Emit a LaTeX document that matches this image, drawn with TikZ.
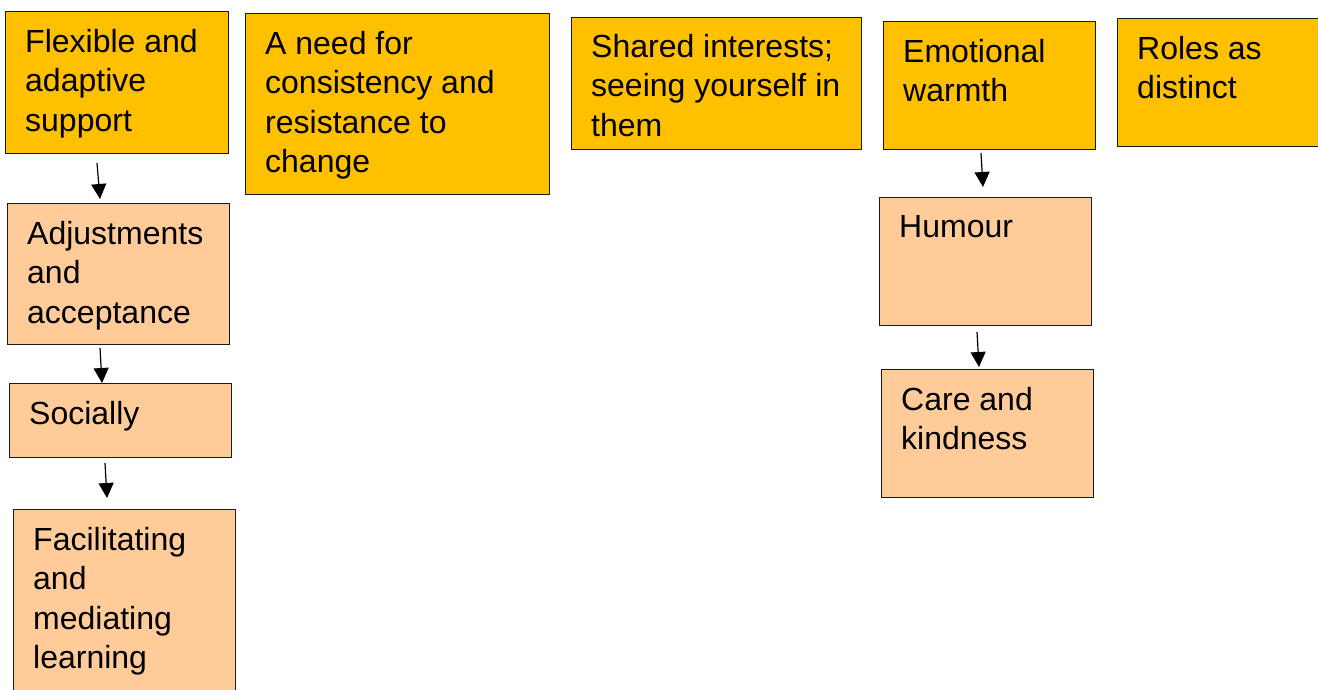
\documentclass[tikz,border=0pt]{standalone}
\usepackage{fontspec}
\setmainfont{Liberation Sans}
\usetikzlibrary{arrows.meta}
\definecolor{gold}{HTML}{FFC000}
\definecolor{peach}{HTML}{FFCC99}
\definecolor{edge}{HTML}{1A1A1A}
% fixed first-line height, so a label's top sits 24pt above its first baseline
\newcommand{\firstline}{\rule{0pt}{24pt}}
\tikzset{
  card/.style={draw=edge, line width=1pt, inner sep=0pt, anchor=north west},
  theme/.style={card, fill=gold},
  subtheme/.style={card, fill=peach},
  lbl/.style={anchor=north west, align=left, inner sep=0pt,
    font=\fontsize{32pt}{39.5pt}\selectfont},
  link/.style={line width=1.2pt, -{Triangle[length=15pt,width=15pt]}}
}
\begin{document}
\begin{tikzpicture}[x=1pt,y=-1pt]
\useasboundingbox (0,0) rectangle (1318,689);
\clip (0,0) rectangle (1318,689);

% top-level themes (label positions given as first baseline minus 24)
\node[theme, minimum width=223pt, minimum height=142pt] (flex) at (5,11) {};
\node[lbl] (flex-t) at (25,28) {\firstline Flexible and\\adaptive\\support};

\node[theme, minimum width=304pt, minimum height=181pt] (need) at (245,13) {};
\node[lbl] (need-t) at (265,30) {\firstline A need for\\consistency and\\resistance to\\change};

\node[theme, minimum width=290pt, minimum height=132pt] (shared) at (571,17) {};
\node[lbl] (shared-t) at (591,33) {\firstline Shared interests;\\seeing yourself in\\them};

\node[theme, minimum width=212pt, minimum height=128pt] (warm) at (883,21) {};
\node[lbl] (warm-t) at (903,38) {\firstline Emotional\\warmth};

\node[theme, minimum width=220pt, minimum height=128pt] (roles) at (1117,18) {};
\node[lbl] (roles-t) at (1137,35) {\firstline Roles as\\distinct};

% sub-themes, left column
\node[subtheme, minimum width=222pt, minimum height=141pt] (adjust) at (7,203) {};
\node[lbl] (adjust-t) at (27,220) {\firstline Adjustments\\and\\acceptance};

\node[subtheme, minimum width=222pt, minimum height=74pt] (social) at (9,383) {};
\node[lbl] (social-t) at (29,400) {\firstline Socially};

\node[subtheme, minimum width=222pt, minimum height=200pt] (facil) at (13,509) {};
\node[lbl] (facil-t) at (33,526) {\firstline Facilitating\\and\\mediating\\learning};

% sub-themes, right column
\node[subtheme, minimum width=212pt, minimum height=128pt] (humour) at (879,197) {};
\node[lbl] (humour-t) at (899,213) {\firstline Humour};

\node[subtheme, minimum width=212pt, minimum height=128pt] (care) at (881,369) {};
\node[lbl] (care-t) at (901,386) {\firstline Care and\\kindness};

% arrow ends
\coordinate (a1s) at (97,163);  \coordinate (a1e) at (100,199);
\coordinate (a2s) at (100,348); \coordinate (a2e) at (102,383);
\coordinate (a3s) at (105,463); \coordinate (a3e) at (107,498);
\coordinate (a4s) at (981,153); \coordinate (a4e) at (983,187);
\coordinate (a5s) at (977,332); \coordinate (a5e) at (979,367);

\draw[link] (a1s) -- (a1e);
\draw[link] (a2s) -- (a2e);
\draw[link] (a3s) -- (a3e);
\draw[link] (a4s) -- (a4e);
\draw[link] (a5s) -- (a5e);
\end{tikzpicture}
\end{document}
